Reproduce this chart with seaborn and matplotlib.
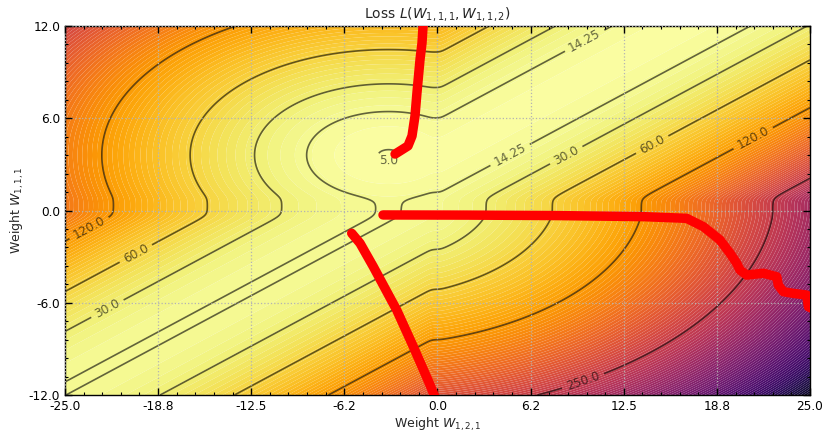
import numpy as np
import pandas as pd
import matplotlib
matplotlib.use("Agg")
import matplotlib.pyplot as plt
import seaborn as sns
from matplotlib.ticker import AutoMinorLocator, FixedLocator, FixedFormatter
from matplotlib.colors import Normalize

# ---------------- data ----------------
x_ticks = [-25.0, -18.75, -12.5, -6.25, 0.0, 6.25, 12.5, 18.75, 25.0]
x_tick_labels = ["-25.0", "-18.8", "-12.5", "-6.2", "0.0", "6.2", "12.5", "18.8", "25.0"]
y_ticks = [-12.0, -6.0, 0.0, 6.0, 12.0]
y_tick_labels = ["-12.0", "-6.0", "0.0", "6.0", "12.0"]

contour_levels = [5.0, 14.25, 30.0, 60.0, 120.0, 250.0]
contour_level_labels = ["5.0", "14.25", "30.0", "60.0", "120.0", "250.0"]

# parameters of the (piecewise quadratic, ReLU network) loss surface
loss_min = 4.85
curv_a = 1.17
curv_b = 1.15
slope_s = 0.52
opt_a = 2.8
opt_b = -1.5
kink_y_low, kink_y_high = -0.3, 0.8
kink_x_low, kink_x_high = -0.4, 0.2

# gradient-descent trajectories (W_{1,2,1}, W_{1,1,1})
traj1_x = [-0.95, -0.97, -1.04, -1.17, -1.38, -1.51, -1.71, -1.98, -2.52, -2.85]
traj1_y = [12.4, 12.0, 10.89, 9.85, 7.64, 6.15, 4.85, 4.2, 3.87, 3.67]

traj2_x = [25.2, 24.89, 24.78, 23.88, 23.21, 22.87, 22.77, 21.87, 20.75, 20.30, 20.08,
           19.63, 18.96, 18.40, 17.84, 16.95, 16.73, 13.81, 8.0, 2.0, -3.66]
traj2_y = [-6.4, -6.26, -5.50, -5.39, -5.28, -4.85, -4.31, -4.08, -4.20, -3.87, -3.43,
           -2.78, -1.92, -1.48, -1.05, -0.62, -0.51, -0.40, -0.33, -0.30, -0.29]

traj3_x = [-0.1, -0.5, -0.94, -1.62, -2.74, -4.31, -5.2, -5.76]
traj3_y = [-12.3, -11.35, -10.37, -8.86, -6.47, -3.65, -2.13, -1.48]

label_positions = [(-3.3, 3.1), (9.9, 11.0), (4.66, 4.0), (8.56, 3.74), (14.4, 4.3),
                   (21.3, 4.5), (-23.3, -1.3), (-20.3, -2.7), (-22.2, -6.3), (9.7, -10.9)]

# ---------------- surface ----------------
def soft_relu(z, tau=0.12):
    return tau * np.logaddexp(0.0, z / tau)

w2 = np.linspace(-25, 25, 700)
w1 = np.linspace(-12, 12, 400)
W2, W1 = np.meshgrid(w2, w1)
Yp = soft_relu(W1 - kink_y_high)
Ym = soft_relu(kink_y_low - W1)
Xp = soft_relu(W2 - kink_x_high)
Xm = soft_relu(kink_x_low - W2)
a = Yp - slope_s * Xp
b = Ym - slope_s * Xm
L = loss_min + curv_a * (a - opt_a) ** 2 + curv_b * (b - opt_b) ** 2

# ---------------- plot ----------------
sns.set_style("ticks")
plt.rcParams["font.family"] = ["DejaVu Sans"]

fig = plt.figure(figsize=(8.29, 4.33), dpi=100)
ax = fig.add_axes([65 / 829, 1 - 395 / 433, 745 / 829, 369 / 433])

fill_levels = np.linspace(L.min(), L.max(), 120)
ax.contourf(W2, W1, L, levels=fill_levels, cmap="inferno_r",
            norm=Normalize(vmin=loss_min, vmax=530), antialiased=True, zorder=1)
cs = ax.contour(W2, W1, L, levels=contour_levels, colors="k", alpha=0.6,
                linewidths=1.2, zorder=2)
fmt = dict(zip(contour_levels, contour_level_labels))
ax.clabel(cs, fmt=fmt, fontsize=8.7, inline=True, manual=label_positions)

for tx, ty in [(traj1_x, traj1_y), (traj2_x, traj2_y), (traj3_x, traj3_y)]:
    df = pd.DataFrame({"x": tx, "y": ty})
    sns.lineplot(data=df, x="x", y="y", sort=False, estimator=None, ax=ax,
                 color="#ff0000", linewidth=6.8, solid_capstyle="round",
                 solid_joinstyle="round", zorder=4)

ax.set_xlim(-25, 25)
ax.set_ylim(-12, 12)
ax.xaxis.set_major_locator(FixedLocator(x_ticks))
ax.xaxis.set_major_formatter(FixedFormatter(x_tick_labels))
ax.yaxis.set_major_locator(FixedLocator(y_ticks))
ax.yaxis.set_major_formatter(FixedFormatter(y_tick_labels))
ax.xaxis.set_minor_locator(AutoMinorLocator(5))
ax.yaxis.set_minor_locator(AutoMinorLocator(5))
ax.tick_params(which="both", direction="in", top=True, right=True, colors="k",
               labelsize=8.7)
ax.tick_params(which="major", length=5, width=1)
ax.tick_params(which="minor", length=2.5, width=0.8)
ax.set_axisbelow(False)
ax.grid(True, which="major", linestyle=":", color="0.7", linewidth=0.9)
for sp in ax.spines.values():
    sp.set_color("k")
    sp.set_linewidth(1.0)

ax.set_title(r"Loss $L(W_{1,1,1}, W_{1,1,2})$", fontsize=10, pad=6)
ax.set_xlabel(r"Weight $W_{1,2,1}$", fontsize=9, labelpad=2)
ax.set_ylabel(r"Weight $W_{1,1,1}$", fontsize=9, labelpad=2)

fig.savefig("out.png", dpi=100)
